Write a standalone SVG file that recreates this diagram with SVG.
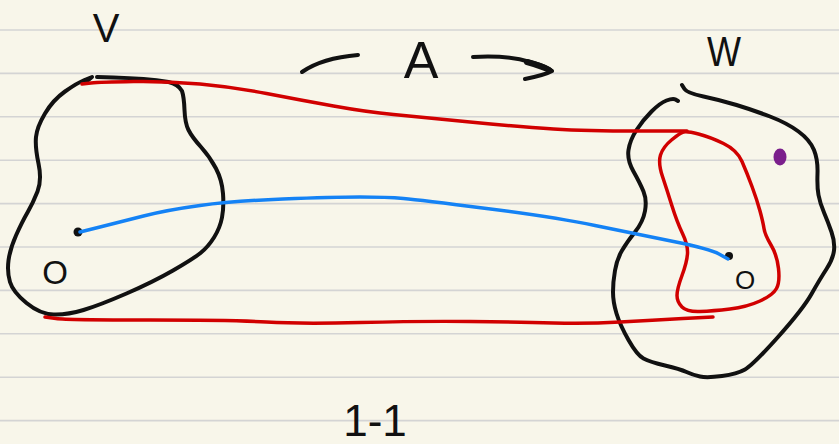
<svg xmlns="http://www.w3.org/2000/svg" width="839" height="444" viewBox="0 0 839 444">
<style>
.rule{stroke:#d4d4d4;stroke-width:1.6}
.ink{fill:none;stroke:#111;stroke-width:4;stroke-linecap:round;stroke-linejoin:round}
.red{fill:none;stroke:#d10000;stroke-width:3.5;stroke-linecap:round;stroke-linejoin:round}
.blue{fill:none;stroke:#1482f5;stroke-width:3.5;stroke-linecap:round;stroke-linejoin:round}
.lbl{font-family:"Liberation Sans",Arial,sans-serif;fill:#111;text-anchor:middle}
</style>
<rect width="839" height="444" fill="#f8f6ea"/>
<g id="paper">
<line class="rule" x1="0" y1="30" x2="839" y2="30"/>
<line class="rule" x1="0" y1="73.4" x2="839" y2="73.4"/>
<line class="rule" x1="0" y1="116.8" x2="839" y2="116.8"/>
<line class="rule" x1="0" y1="160.2" x2="839" y2="160.2"/>
<line class="rule" x1="0" y1="203.6" x2="839" y2="203.6"/>
<line class="rule" x1="0" y1="247" x2="839" y2="247"/>
<line class="rule" x1="0" y1="290.4" x2="839" y2="290.4"/>
<line class="rule" x1="0" y1="333.8" x2="839" y2="333.8"/>
<line class="rule" x1="0" y1="377.2" x2="839" y2="377.2"/>
<line class="rule" x1="0" y1="420.6" x2="839" y2="420.6"/>
</g>
<g id="V">
<path class="ink" d="M97,77 L113.5,77.5 Q130,78 143.5,79 Q157,80 168.5,82 Q178,84 182,91 Q184,97 184.5,110 Q185,123 188.5,130 Q192,137 201,147 Q210,157 216,168.5 Q222,180 223,193.5 Q224,207 222,217.5 Q220,228 214,237.5 Q208,247 200.5,253 Q193,259 173,270.5 Q153,282 126.5,293.5 Q100,305 83.5,310 Q67,315 53.5,314.5 Q40,314 26.5,303 Q13,292 10,282 Q7,272 8.5,260.5 Q10,249 16,235.5 Q22,222 27.5,212.5 Q33,203 37.5,191.5 Q42,180 38.5,163.5 Q35,147 36,137 Q37,127 45,113.5 Q53,100 65,91.5 Q77,83 84.5,80 L92,77 L86,82"/>
<circle cx="78" cy="232" r="4.5" fill="#111"/>
<text class="lbl" x="106" y="42" font-size="40">V</text>
<text class="lbl" x="55" y="284" font-size="33">O</text>
</g>
<g id="W">
<path class="ink" d="M678,101 L675.5,99.5 Q673,98 666.5,100.5 Q660,103 651.5,111.5 Q643,120 636.5,130 Q630,140 628.5,150 Q627,160 633.5,171.5 Q640,183 643.5,191.5 Q647,200 645,211 Q643,222 635,232 Q627,242 622,250.5 Q617,259 615,270.5 Q613,282 613,292 Q613,302 616.5,313.5 Q620,325 628.5,340 Q637,355 643.5,358.5 Q650,362 665,365.5 Q680,369 686.5,372 Q693,375 700,376.5 Q707,378 722,376 Q737,374 745,369.5 Q753,365 778,337 Q803,309 811.5,294 Q820,279 826.5,269 Q833,259 834,250.5 Q835,242 831.5,232 Q828,222 824,212.5 Q820,203 818.5,195 Q817,187 817.5,173.5 Q818,160 814,150 Q810,140 798.5,131.5 Q787,123 770,116.5 Q753,110 736.5,105 Q720,100 703.5,96.5 Q687,93 684.5,89 L682,85"/>
<path class="red" d="M683.5,132 Q687,131 698.5,134 Q710,137 723.5,143.5 Q737,150 742,161.5 Q747,173 752,186.5 Q757,200 760,211 Q763,222 764,228.5 Q765,235 771,245 Q777,255 778.5,268.5 Q780,282 776.5,288.5 Q773,295 760,301 Q747,307 730,309 Q713,311 700,311.5 Q687,312 682,307 Q677,302 677,295.5 Q677,289 682,275.5 Q687,262 687.5,253.5 Q688,245 682.5,233.5 Q677,222 672,206 Q667,190 662.5,176.5 Q658,163 660.5,155 Q663,147 671.5,140 Q680,133 683.5,132 Z"/>
<circle cx="729" cy="256" r="4" fill="#111"/>
<ellipse cx="780" cy="157" rx="6.5" ry="8.5" fill="#7b1f8c"/>
<text class="lbl" x="724" y="66" font-size="42" textLength="34" lengthAdjust="spacingAndGlyphs">W</text>
<text class="lbl" x="745" y="289" font-size="26">O</text>
</g>
<g id="connectors">
<path class="red" d="M82,84 L91,83 Q100,82 133.5,81.5 Q167,81 200,84 Q233,87 266.5,93.5 Q300,100 333.5,106 Q367,112 393.5,114.5 Q420,117 470,122 Q520,127 553.5,129 Q587,131 637,131 L687,131"/>
<path class="red" d="M45,317 L56,318.5 Q67,320 150,320 Q233,320 266.5,322 Q300,324 360,322.5 Q420,321 470,321.5 Q520,322 553.5,323 Q587,324 620,322 Q653,320 683,318.5 L713,317"/>
<path class="blue" d="M80,232 L100,227 Q120,222 143.5,216 Q167,210 200,205.5 Q233,201 283,199 Q333,197 360,197 Q387,197 403.5,198.5 Q420,200 486.5,208.5 Q553,217 595,225.5 Q637,234 673.5,241.5 Q710,249 719,254 L728,259"/>
</g>
<g id="map-label">
<path class="ink" d="M302,72 Q322,58 358,55"/>
<text class="lbl" x="421" y="78" font-size="52">A</text>
<path class="ink" d="M473,57 Q508,55 530,62 Q548,67 552,71 Q545,75 525,79"/>
<path fill="none" stroke="#111" stroke-width="6" stroke-linecap="round" d="M527,62 Q542,66 549,70"/>
</g>
<g id="note">
<text class="lbl" x="375" y="436" font-size="44">1-1</text>
</g>
</svg>
